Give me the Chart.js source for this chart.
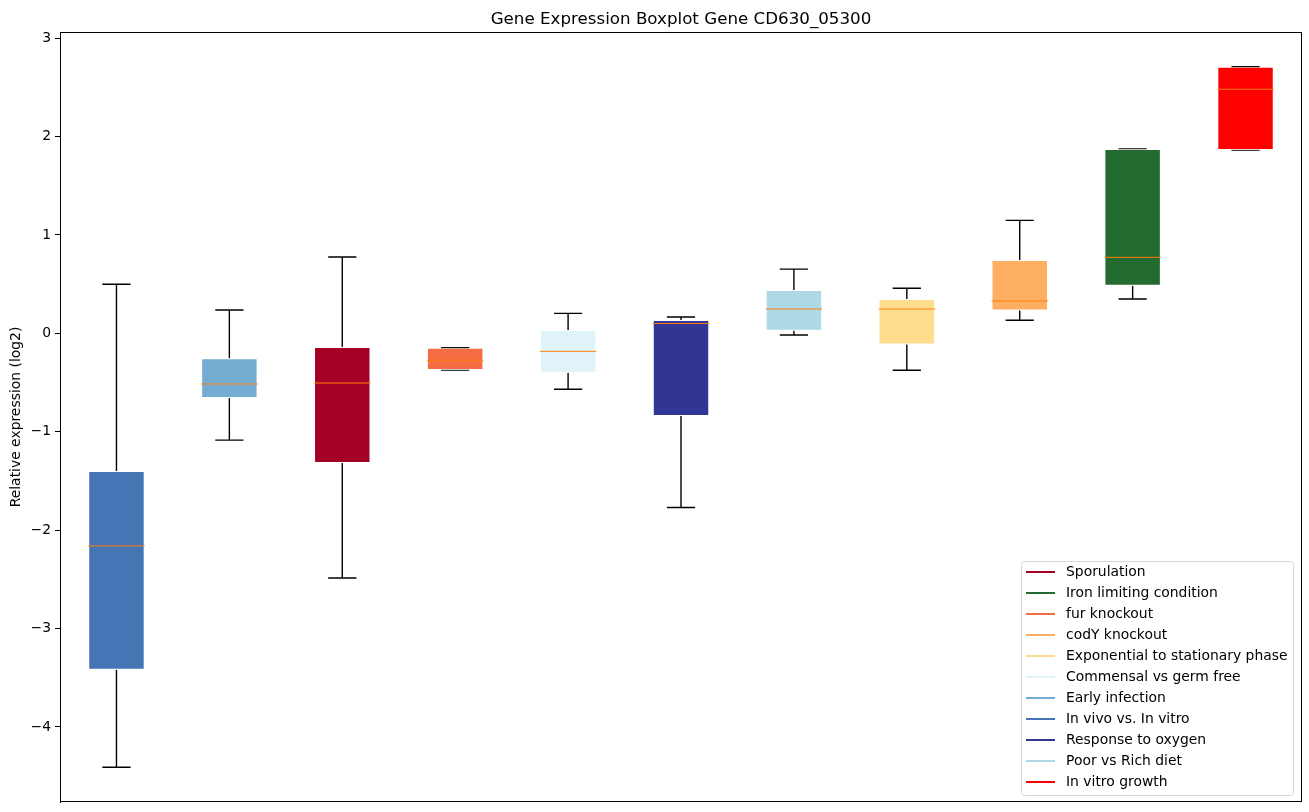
<!DOCTYPE html>
<html lang="en">
<head>
    <meta charset="UTF-8">
    <title>Gene Expression Boxplot Gene CD630_05300</title>
    <script src="https://cdn.jsdelivr.net/npm/chart.js"></script>
    <style>
        html, body { margin: 0; padding: 0; background: #fff; overflow: hidden; }
        #boxChart { display: block; }
    </style>
</head>
<body>
<canvas id="boxChart" width="1309" height="812"></canvas>
<script>
    // conditions, in the order they appear on the x axis
    var conditions = ['In vivo vs. In vitro', 'Early infection', 'Sporulation', 'fur knockout',
        'Commensal vs germ free', 'Response to oxygen', 'Poor vs Rich diet',
        'Exponential to stationary phase', 'codY knockout', 'Iron limiting condition', 'In vitro growth'];
    var boxColors = ['#4575b4', '#74add1', '#a50026', '#f46d43', '#e0f3f8', '#313695',
        '#add8e6', '#fedd8d', '#fdae61', '#236b2e', '#ff0000'];

    // box statistics (log2)
    var whiskerLow  = [-4.41, -1.085, -2.487, -0.373, -0.569, -1.77, -0.017, -0.376, 0.132, 0.349, 1.862];
    var q1          = [-3.42, -0.658, -1.317, -0.373, -0.40, -0.84, 0.026, -0.115, 0.231, 0.483, 1.862];
    var medians     = [-2.16, -0.515, -0.505, -0.274, -0.183, 0.10, 0.247, 0.247, 0.329, 0.772, 2.480];
    var q3          = [-1.399, -0.254, -0.139, -0.146, 0.034, 0.135, 0.44, 0.348, 0.745, 1.873, 2.709];
    var whiskerHigh = [0.498, 0.237, 0.775, -0.146, 0.203, 0.166, 0.652, 0.458, 1.148, 1.873, 2.709];

    // legend order as in the original
    var legendOrder = ['Sporulation', 'Iron limiting condition', 'fur knockout', 'codY knockout',
        'Exponential to stationary phase', 'Commensal vs germ free', 'Early infection',
        'In vivo vs. In vitro', 'Response to oxygen', 'Poor vs Rich diet', 'In vitro growth'];

    var yTicks = [-4, -3, -2, -1, 0, 1, 2, 3];

    var chartTitle = 'Gene Expression Boxplot Gene CD630_05300';
    var FONT = 'DejaVu Sans';

    // whiskers and caps go under the boxes
    var whiskers = {
        id: 'whiskers',
        beforeDatasetsDraw: function (chart) {
            var ctx = chart.ctx;
            var y = chart.scales.y;
            ctx.save();
            ctx.strokeStyle = '#000';
            ctx.lineWidth = 1.4;
            chart.getDatasetMeta(0).data.forEach(function (bar, i) {
                var cx = bar.x;
                var capHalf = bar.width / 4;
                var hi = y.getPixelForValue(whiskerHigh[i]);
                var lo = y.getPixelForValue(whiskerLow[i]);
                ctx.beginPath();
                ctx.moveTo(cx, y.getPixelForValue(q3[i]));
                ctx.lineTo(cx, hi);
                ctx.moveTo(cx, y.getPixelForValue(q1[i]));
                ctx.lineTo(cx, lo);
                ctx.moveTo(cx - capHalf, hi);
                ctx.lineTo(cx + capHalf, hi);
                ctx.moveTo(cx - capHalf, lo);
                ctx.lineTo(cx + capHalf, lo);
                ctx.stroke();
            });
            ctx.restore();
        }
    };

    // medians, frame, title and the inset legend
    var boxExtras = {
        id: 'boxExtras',
        afterDatasetsDraw: function (chart) {
            var ctx = chart.ctx;
            var y = chart.scales.y;
            var a = chart.chartArea;
            ctx.save();
            ctx.strokeStyle = '#ff7f0e';
            ctx.lineWidth = 1;
            chart.getDatasetMeta(0).data.forEach(function (bar, i) {
                var half = bar.width / 2;
                var my = y.getPixelForValue(medians[i]);
                ctx.beginPath();
                ctx.moveTo(bar.x - half, my);
                ctx.lineTo(bar.x + half, my);
                ctx.stroke();
            });

            // axes frame
            ctx.strokeStyle = '#000';
            ctx.lineWidth = 1;
            ctx.strokeRect(a.left + 0.5, a.top + 0.5, a.right - a.left - 1, a.bottom - a.top - 1);

            // title centred over the plot area
            ctx.fillStyle = '#000';
            ctx.font = '16.7px "' + FONT + '"';
            ctx.textAlign = 'center';
            ctx.textBaseline = 'alphabetic';
            ctx.fillText(chartTitle, (a.left + a.right) / 2, a.top - 8);

            // legend box in the lower right corner
            var rowH = 21;
            var lw = 272, lh = rowH * legendOrder.length + 3;
            var lx = a.right - 9 - lw, ly = a.bottom - 7 - lh;
            ctx.fillStyle = 'rgba(255,255,255,0.8)';
            ctx.strokeStyle = '#d6d6d6';
            ctx.beginPath();
            ctx.roundRect(lx + 0.5, ly + 0.5, lw, lh, 3);
            ctx.fill();
            ctx.stroke();
            ctx.font = '13.9px "' + FONT + '"';
            ctx.textBaseline = 'middle';
            ctx.textAlign = 'left';
            legendOrder.forEach(function (name, k) {
                var idx = conditions.indexOf(name);
                var yy = ly + 11 + k * rowH;
                ctx.strokeStyle = boxColors[idx];
                ctx.lineWidth = 2;
                ctx.beginPath();
                ctx.moveTo(lx + 5, yy);
                ctx.lineTo(lx + 34, yy);
                ctx.stroke();
                ctx.fillStyle = '#000';
                ctx.fillText(name, lx + 45, yy);
            });
            ctx.restore();
        }
    };

    var boxRanges = conditions.map(function (c, i) { return [q1[i], q3[i]]; });

    new Chart(document.getElementById('boxChart'), {
        type: 'bar',
        data: {
            labels: conditions,
            datasets: [{
                data: boxRanges,
                backgroundColor: boxColors,
                borderColor: 'rgba(255,255,255,0.7)',
                borderWidth: 1,
                borderSkipped: false,
                barPercentage: 0.5,
                categoryPercentage: 1.0
            }]
        },
        options: {
            responsive: false,
            devicePixelRatio: 1,
            animation: false,
            layout: { padding: { left: 0, right: 7, top: 32, bottom: 10 } },
            plugins: {
                legend: { display: false },
                tooltip: { enabled: false },
                title: { display: false }
            },
            scales: {
                x: {
                    display: false,
                    grid: { display: false }
                },
                y: {
                    min: -4.763,
                    max: 3.062,
                    afterBuildTicks: function (scale) {
                        scale.ticks = yTicks.map(function (v) { return { value: v }; });
                    },
                    afterFit: function (scale) {
                        scale.width = 60;
                        scale.paddingTop = 0;
                        scale.paddingBottom = 0;
                    },
                    grid: {
                        drawOnChartArea: false,
                        drawTicks: true,
                        tickLength: 5,
                        color: '#000'
                    },
                    border: { display: true, color: '#000' },
                    ticks: {
                        color: '#000',
                        padding: 4,
                        font: { family: FONT, size: 13.9 },
                        callback: function (v) { return String(v).replace('-', '\u2212'); }
                    },
                    title: {
                        display: true,
                        text: 'Relative expression (log2)',
                        color: '#000',
                        font: { family: FONT, size: 13.9 },
                        padding: { top: 8, bottom: 6 }
                    }
                }
            }
        },
        plugins: [whiskers, boxExtras]
    });
</script>
</body>
</html>
